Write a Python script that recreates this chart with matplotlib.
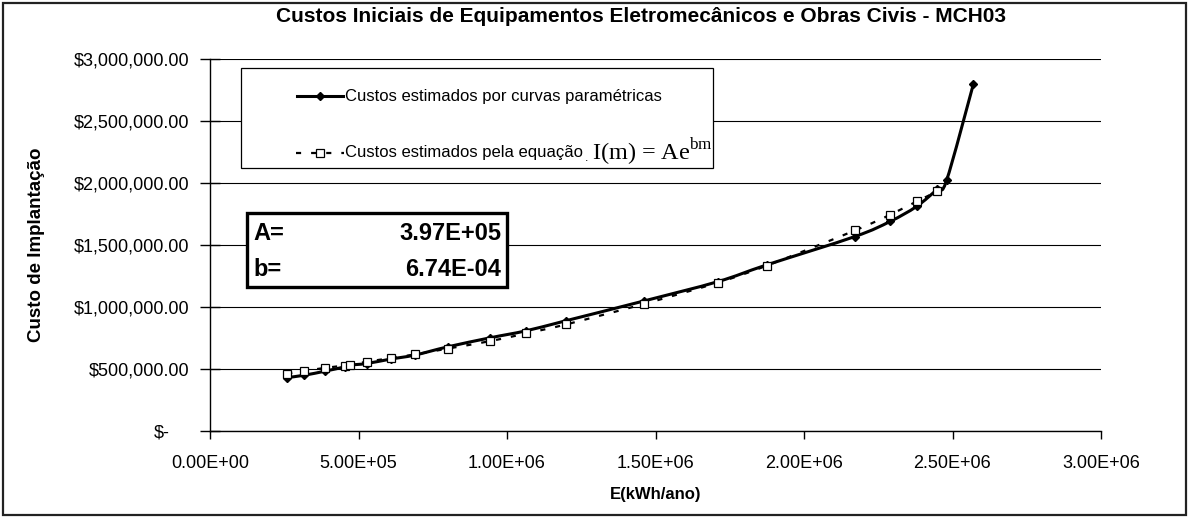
import matplotlib
matplotlib.use("Agg")
import matplotlib.pyplot as plt
from matplotlib.path import Path
from matplotlib.patches import PathPatch, Rectangle
from matplotlib.lines import Line2D
import matplotlib.transforms as mtransforms
import numpy as np

plt.rcParams['font.family'] = ['Liberation Sans', 'DejaVu Sans']

# ---- data ----
energia = [260e3, 318e3, 388e3, 453e3, 470e3, 527e3, 608e3, 689e3, 801e3, 944e3,
           1064e3, 1198e3, 1460e3, 1709e3, 1875e3, 2171e3, 2290e3, 2379e3, 2449e3,
           2480e3, 2570e3]
custo_param = [431e3, 450e3, 483e3, 517e3, 531e3, 544e3, 580e3, 612e3, 679e3, 752e3,
               808e3, 889e3, 1048e3, 1204e3, 1340e3, 1568e3, 1690e3, 1811e3, 1950e3,
               2021e3, 2795e3]
energia_eq = [260e3, 318e3, 388e3, 453e3, 470e3, 527e3, 608e3, 689e3, 801e3, 944e3,
              1064e3, 1198e3, 1460e3, 1709e3, 1875e3, 2171e3, 2290e3, 2379e3, 2449e3]
custo_eq = [463e3, 485e3, 509e3, 528e3, 536e3, 558e3, 588e3, 617e3, 665e3, 725e3,
            787e3, 859e3, 1024e3, 1196e3, 1334e3, 1617e3, 1744e3, 1851e3, 1932e3]

x_ticks = [0, 0.5e6, 1.0e6, 1.5e6, 2.0e6, 2.5e6, 3.0e6]
y_ticks = [0, 0.5e6, 1.0e6, 1.5e6, 2.0e6, 2.5e6, 3.0e6]

titulo = "Custos Iniciais de Equipamentos Eletromecânicos e Obras Civis - MCH03"
rotulo_x = "E(kWh/ano)"
rotulo_y = "Custo de Implantação"
leg1 = "Custos estimados por curvas paramétricas"
leg2 = "Custos estimados pela equação"
formula = r"I(m) = Ae$^{\mathregular{bm}}$"
param_nomes = ["A=", "b="]
param_valores = ["3.97E+05", "6.74E-04"]

W, H = 1189, 518
fig = plt.figure(figsize=(W / 100, H / 100), dpi=100)


def fx(px):
    return px / W


def fy(py):
    return 1 - py / H


# outer chart border
fig.patches.append(Rectangle((3 / W, 3 / H), (W - 6) / W, (H - 6) / H,
                             transform=fig.transFigure, fill=False,
                             edgecolor='#222222', linewidth=1.6))

L, R, T, B = 210, 1101, 59, 431
ax = fig.add_axes([L / W, 1 - B / H, (R - L) / W, (B - T) / H])
ax.set_xlim(0, 3e6)
ax.set_ylim(0, 3e6)


def smooth_path(xs, ys):
    pts = np.column_stack([xs, ys])
    n = len(pts)
    verts = [pts[0]]
    codes = [Path.MOVETO]
    for i in range(n - 1):
        p0 = pts[i - 1] if i > 0 else pts[i]
        p1 = pts[i]
        p2 = pts[i + 1]
        p3 = pts[i + 2] if i + 2 < n else pts[i + 1]
        c1 = p1 + (p2 - p0) / 6.0
        c2 = p2 - (p3 - p1) / 6.0
        verts += [c1, c2, p2]
        codes += [Path.CURVE4] * 3
    return Path(verts, codes)


# gridlines
ax.set_xticks(x_ticks)
ax.set_yticks(y_ticks)
ax.yaxis.grid(True, color='black', linewidth=0.8)
ax.set_axisbelow(True)

# series
ax.add_patch(PathPatch(smooth_path(energia_eq, custo_eq), fill=False,
                       edgecolor='black', linewidth=1.6,
                       linestyle=(0, (2.3, 4.5)), zorder=3))
ax.plot(energia_eq, custo_eq, linestyle='none', marker='s', markersize=6,
        markerfacecolor='white', markeredgecolor='black', markeredgewidth=0.9,
        zorder=5)
ax.add_patch(PathPatch(smooth_path(energia, custo_param), fill=False,
                       edgecolor='black', linewidth=2.2, zorder=4))
ax.plot(energia, custo_param, linestyle='none', marker='D', markersize=4.5,
        color='black', zorder=4)

# axes styling
for s in ['top', 'right']:
    ax.spines[s].set_visible(False)
for s in ['left', 'bottom']:
    ax.spines[s].set_linewidth(1.0)
ax.set_xticklabels([f"{v:.2E}" for v in x_ticks])
ax.set_yticklabels([("$-" if v == 0 else f"${v:,.2f}") for v in y_ticks])
ax.tick_params(axis='x', direction='out', length=6, width=1, labelsize=13, pad=11)
ax.tick_params(axis='y', direction='inout', length=14, width=1, labelsize=13, pad=8)
lbl0 = ax.yaxis.get_major_ticks()[0].label1
lbl0.set_transform(lbl0.get_transform() +
                   mtransforms.ScaledTranslation(-19 / 100, 0, fig.dpi_scale_trans))

fig.text(fx(656), fy(495), rotulo_x, ha='center', va='center', fontsize=12,
         fontweight='bold')
fig.text(fx(37), fy(245), rotulo_y, ha='center', va='center', fontsize=13.5,
         fontweight='bold', rotation=90)
fig.text(fx(641), fy(17), titulo, ha='center', va='center',
         fontsize=15, fontweight='bold')

# legend box (manual)
fig.patches.append(Rectangle((fx(241), fy(168)), (713 - 241) / W, (168 - 68) / H,
                             transform=fig.transFigure, facecolor='white',
                             edgecolor='black', linewidth=0.9, zorder=10))
fig.lines.append(Line2D([fx(297), fx(343)], [fy(96), fy(96)], transform=fig.transFigure,
                        color='black', linewidth=2.2, zorder=11))
fig.lines.append(Line2D([fx(320)], [fy(96)], transform=fig.transFigure, marker='D',
                        markersize=4.5, color='black', linestyle='none', zorder=12))
fig.text(fx(345), fy(96), leg1, ha='left', va='center', fontsize=12, zorder=12)
fig.lines.append(Line2D([fx(296), fx(344)], [fy(153), fy(153)], transform=fig.transFigure,
                        color='black', linewidth=1.6, linestyle=(0, (2.3, 4.5)), zorder=11))
fig.lines.append(Line2D([fx(320)], [fy(153)], transform=fig.transFigure, marker='s',
                        markersize=6, markerfacecolor='white', markeredgecolor='black',
                        markeredgewidth=0.9, linestyle='none', zorder=12))
fig.text(fx(345), fy(153), leg2, ha='left', va='center', fontsize=12, zorder=12)
fig.text(fx(585), fy(158), ".", ha='left', va='center', fontsize=9, zorder=12)
fig.text(fx(592), fy(152), formula, ha='left', va='center',
         fontsize=17.5, family=['Liberation Serif', 'DejaVu Serif'], zorder=12)

# parameter box
fig.patches.append(Rectangle((fx(247), fy(287)), (507 - 247) / W, (287 - 213) / H,
                             transform=fig.transFigure, facecolor='white',
                             edgecolor='black', linewidth=2.4, zorder=10))
for i, (n, v) in enumerate(zip(param_nomes, param_valores)):
    yy = fy(234 + i * 35)
    fig.text(fx(253), yy, n, ha='left', va='center', fontsize=17, fontweight='bold',
             zorder=12)
    fig.text(fx(501), yy, v, ha='right', va='center', fontsize=17, fontweight='bold',
             zorder=12)

fig.savefig("out.png", dpi=100)
